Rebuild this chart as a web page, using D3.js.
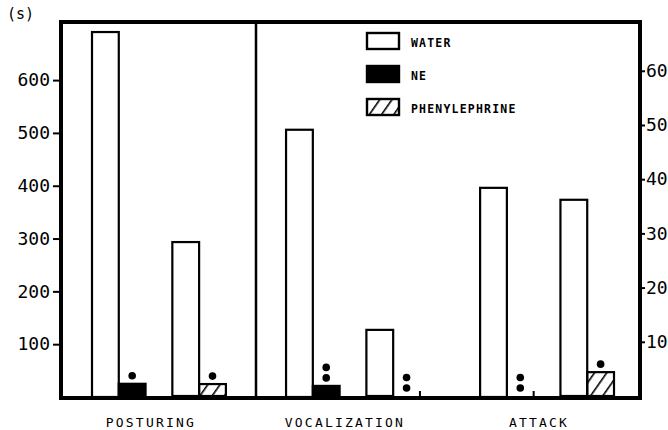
<!DOCTYPE html>
<html>
<head>
<meta charset="utf-8">
<script src="https://cdn.jsdelivr.net/npm/d3@7"></script>
<style>
  body { margin: 0; background: #fff; }
  svg { display: block; }
</style>
</head>
<body>
<script>
const width = 668;
const height = 430;

// data
const categories = ["POSTURING", "VOCALIZATION", "ATTACK"];
const waterNE = [691, 506, 396];      // left axis (s)
const neValues = [25, 21, 0];
const waterPhe = [28.4, 12.2, 36.2];  // right axis
const pheValues = [2.2, 0, 4.4];
const neMarks = [1, 2, 2];
const pheMarks = [1, 2, 1];
const leftTicks = [100, 200, 300, 400, 500, 600];
const rightTicks = [10, 20, 30, 40, 50, 60];
const legendItems = ["WATER", "NE", "PHENYLEPHRINE"];

const frame = {left: 61, right: 640, top: 22, bottom: 398};

const svg = d3.select("body").append("svg")
    .attr("width", width)
    .attr("height", height);

const defs = svg.append("defs");
defs.append("pattern")
    .attr("id", "hatch")
    .attr("patternUnits", "userSpaceOnUse")
    .attr("width", 10)
    .attr("height", 10)
    .attr("patternTransform", "rotate(35)")
  .append("line")
    .attr("x1", 0).attr("y1", -2)
    .attr("x2", 0).attr("y2", 12)
    .attr("stroke", "#000")
    .attr("stroke-width", 3.2);

const x = d3.scaleBand()
    .domain(categories)
    .range([92, 614])
    .paddingInner(0.31)
    .paddingOuter(0);

const slot = d3.scaleBand()
    .domain(["w1", "ne", "gap", "w2", "phe"])
    .range([0, x.bandwidth()]);

const yL = d3.scaleLinear().domain([0, 710]).range([397, frame.top]);
const yR = d3.scaleLinear().domain([0, 69]).range([396, frame.top]);

const bars = [];
categories.forEach((c, i) => {
    bars.push({cat: c, slot: "w1", value: waterNE[i], y: yL, fill: "#fff", marks: 0});
    bars.push({cat: c, slot: "ne", value: neValues[i], y: yL, fill: "#000", marks: neMarks[i]});
    bars.push({cat: c, slot: "w2", value: waterPhe[i], y: yR, fill: "#fff", marks: 0});
    bars.push({cat: c, slot: "phe", value: pheValues[i], y: yR, fill: "url(#hatch)", marks: pheMarks[i]});
});

// bars
svg.selectAll(".bar")
  .data(bars.filter(d => d.value > 0))
  .enter().append("rect")
    .attr("class", "bar")
    .attr("x", d => x(d.cat) + slot(d.slot))
    .attr("y", d => d.y(d.value))
    .attr("width", slot.bandwidth())
    .attr("height", d => d.y(0) - d.y(d.value))
    .attr("fill", d => d.fill)
    .attr("stroke", "#000")
    .attr("stroke-width", 2.2);

// little stub for the empty bars
svg.selectAll(".stub")
  .data(bars.filter(d => d.value === 0))
  .enter().append("line")
    .attr("x1", d => x(d.cat) + slot(d.slot) + slot.bandwidth())
    .attr("x2", d => x(d.cat) + slot(d.slot) + slot.bandwidth())
    .attr("y1", frame.bottom)
    .attr("y2", frame.bottom - 7)
    .attr("stroke", "#000")
    .attr("stroke-width", 2);

// significance dots
const dots = [];
bars.forEach(d => {
    for (let k = 0; k < d.marks; k++) dots.push({bar: d, k: k});
});
svg.selectAll(".dot")
  .data(dots)
  .enter().append("circle")
    .attr("cx", d => x(d.bar.cat) + slot(d.bar.slot) + slot.bandwidth() / 2)
    .attr("cy", d => Math.min(d.bar.y(d.bar.value), frame.bottom - 2) - 8 - d.k * 10.5)
    .attr("r", 3.8)
    .attr("fill", "#000");

// frame + divider
svg.append("rect")
    .attr("x", frame.left)
    .attr("y", frame.top)
    .attr("width", frame.right - frame.left)
    .attr("height", frame.bottom - frame.top)
    .attr("fill", "none")
    .attr("stroke", "#000")
    .attr("stroke-width", 4);

svg.append("line")
    .attr("x1", 256).attr("x2", 256)
    .attr("y1", frame.top).attr("y2", frame.bottom)
    .attr("stroke", "#000")
    .attr("stroke-width", 2.5);

// axes
const gL = svg.append("g")
    .attr("transform", `translate(${frame.left},0)`)
    .call(d3.axisLeft(yL).tickValues(leftTicks).tickSize(8).tickPadding(3));
const gR = svg.append("g")
    .attr("transform", `translate(${frame.right},0)`)
    .call(d3.axisRight(yR).tickValues(rightTicks).tickSize(5).tickPadding(1));

[gL, gR].forEach(g => {
    g.select(".domain").remove();
    g.selectAll(".tick line").attr("stroke", "#000").attr("stroke-width", 2);
    g.selectAll(".tick text")
        .attr("fill", "#000")
        .style("font-family", "'DejaVu Sans Mono', monospace")
        .style("font-size", "18px");
});

svg.append("text")
    .attr("x", 7)
    .attr("y", 19)
    .style("font-family", "'DejaVu Sans Mono', monospace")
    .style("font-size", "15px")
    .text("(s)");

// category labels
svg.selectAll(".cat")
  .data(categories)
  .enter().append("text")
    .attr("x", d => x(d) + x.bandwidth() * 0.44)
    .attr("y", 427)
    .attr("text-anchor", "middle")
    .style("font-family", "'DejaVu Sans Mono', monospace")
    .style("font-size", "13px")
    .style("letter-spacing", "2.2px")
    .text(d => d);

// legend
const legendFill = ["#fff", "#000", "url(#hatch)"];
const lg = svg.selectAll(".legend")
  .data(legendItems)
  .enter().append("g")
    .attr("transform", (d, i) => `translate(367,${33 + i * 33})`);
lg.append("rect")
    .attr("width", 32)
    .attr("height", 16)
    .attr("fill", (d, i) => legendFill[i])
    .attr("stroke", "#000")
    .attr("stroke-width", 2.4);
lg.append("text")
    .attr("x", 44)
    .attr("y", 14)
    .style("font-family", "'DejaVu Sans Mono', monospace")
    .style("font-weight", "bold")
    .style("font-size", "11.5px")
    .style("letter-spacing", "1.2px")
    .text(d => d);
</script>
</body>
</html>
